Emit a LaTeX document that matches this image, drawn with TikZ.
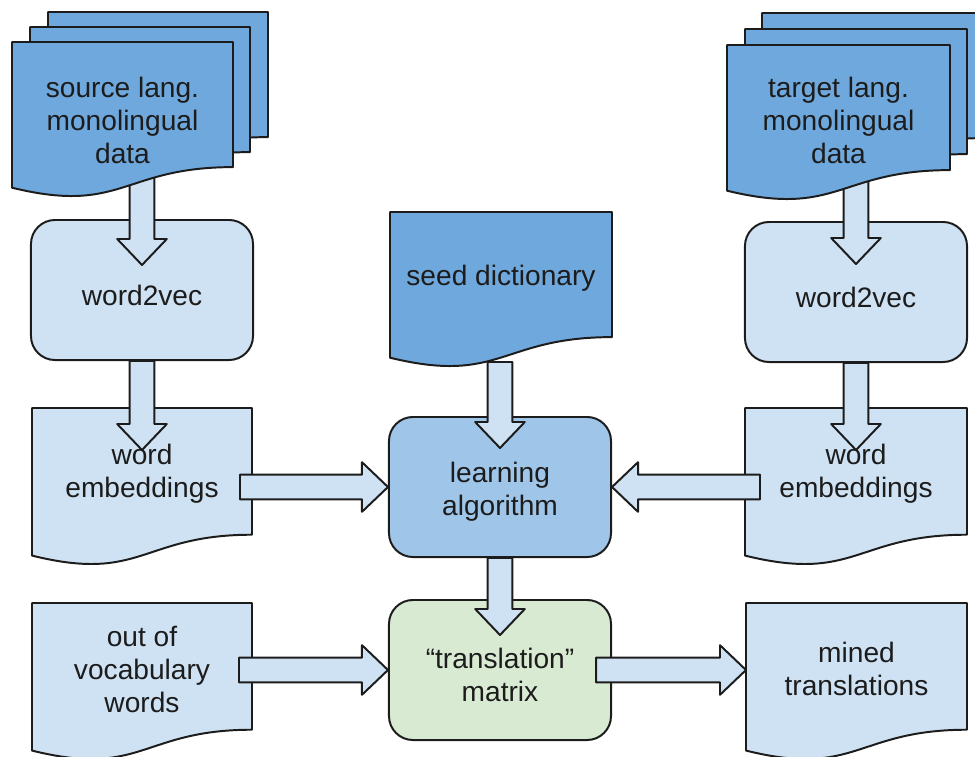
\documentclass[tikz,border=0pt]{standalone}
\usepackage{fontspec}
\setmainfont{Liberation Sans}
\usetikzlibrary{calc,fit}

\definecolor{blueA}{HTML}{6FA8DC}
\definecolor{blueB}{HTML}{9FC5E8}
\definecolor{blueC}{HTML}{CFE2F3}
\definecolor{greenC}{HTML}{D9EAD3}
\definecolor{ink}{HTML}{1C1C1C}

\pgfdeclarelayer{front}
\pgfsetlayers{main,front}

\tikzset{
	shapeline/.style={draw=ink, line width=1.4pt, line join=round},
	labeltext/.style={font=\fontsize{20}{23.5}\selectfont, text=ink, align=center},
	box/.style={shapeline, rounded corners=0.6cm, minimum width=5.55cm, minimum height=3.5cm},
	txt/.style={labeltext, inner sep=0pt},
	docfit/.style={inner sep=0pt, outer sep=0pt},
	fat arrow/.style={shapeline, fill=blueC},
}

% page with a wavy lower edge: x0, y0, width, height, fill
\newcommand\docshape[5]{%
	\draw[shapeline, fill=#5] (#1,#2) -- ({#1+#3},#2) -- ({#1+#3},{#2+0.802*#4})
	.. controls ({#1+0.5*#3},{#2+0.802*#4}) and ({#1+0.5*#3},{#2+1.1075*#4}) .. (#1,{#2+0.934*#4}) -- cycle;}

% name, x0, y0, width, height, fill, text
\newcommand\docnode[7]{%
	\docshape{#2}{#3}{#4}{#5}{#6}
	\node[docfit, fit={(#2,#3) ({#2+#4},{#3+#5})}] (#1) {};
	\node[txt] (#1-t) at ($(#1.north)+(0,66)$) {#7};}

% rounded box: name, centre, fill, text
\newcommand\boxnode[4]{%
	\node[box, fill=#3] (#1) at (#2) {};
	\node[txt] (#1-t) at ($(#1.center)+(0,5)$) {#4};}

% hollow block arrow from #1 to #2
\newcommand\fatarrow[2]{%
	\path (#1) coordinate (fa-s) (#2) coordinate (fa-t);
	\path ($(fa-t)!0.65cm!(fa-s)$) coordinate (fa-h);
	\draw[fat arrow] ($(fa-s)!0.31cm!90:(fa-t)$) -- ($(fa-h)!0.31cm!90:(fa-t)$)
	-- ($(fa-h)!0.62cm!90:(fa-t)$) -- (fa-t) -- ($(fa-h)!0.62cm!-90:(fa-t)$)
	-- ($(fa-h)!0.31cm!-90:(fa-t)$) -- ($(fa-s)!0.31cm!-90:(fa-t)$) -- cycle;}

\begin{document}
\begin{tikzpicture}[x=0.025cm, y=-0.025cm]
	\useasboundingbox (0,0) rectangle (975,757);

	\boxnode{w2vL}{142,290}{blueC}{word2vec}
	\boxnode{w2vR}{856,292}{blueC}{word2vec}
	\boxnode{learn}{500,487}{blueB}{learning\\algorithm}
	\boxnode{mat}{500,670}{greenC}{``translation''\\matrix}

	\docnode{seed}{390}{212}{222}{156}{blueA}{seed dictionary}
	\docnode{weL}{32}{408}{220}{158}{blueC}{word\\embeddings}
	\docnode{weR}{745}{408}{222}{158}{blueC}{word\\embeddings}
	\docnode{oov}{32}{603}{220}{158}{blueC}{out of\\vocabulary\\words}
	\docnode{mined}{746}{603}{221}{158}{blueC}{mined\\translations}

	% stacked pages sit above everything else
	\begin{pgfonlayer}{front}
		\docshape{48}{12}{220}{156}{blueA}
		\docshape{30}{27}{220}{156}{blueA}
		\docshape{12}{42}{221}{156}{blueA}
		\node[docfit, fit={(12,42) (233,198)}] (src) {};
		\node[txt] (src-t) at (src.center) {source lang.\\monolingual\\data};
		\docshape{762}{13}{222}{156}{blueA}
		\docshape{745}{29}{222}{156}{blueA}
		\docshape{727}{45}{223}{156}{blueA}
		\node[docfit, fit={(727,45) (950,201)}] (tgt) {};
		\node[txt] (tgt-t) at ($(tgt.center)+(0,-3)$) {target lang.\\monolingual\\data};
	\end{pgfonlayer}

	\fatarrow{src.center -| w2vL.north}{$(w2vL.north)+(0,46)$}
	\fatarrow{tgt.center -| w2vR.north}{$(w2vR.north)+(0,43)$}
	\fatarrow{w2vL.south}{$(weL.north)+(0,42)$}
	\fatarrow{w2vR.south}{$(weR.north)+(0,42)$}
	\fatarrow{$(seed.south -| learn.north)+(0,-6)$}{$(learn.north)+(0,32)$}
	\fatarrow{$(weL.east)+(-12,0)$}{learn.west}
	\fatarrow{$(weR.west)+(15,0)$}{learn.east}
	\fatarrow{learn.south}{$(mat.north)+(0,36)$}
	\fatarrow{$(oov.east |- mat.west)+(-13,0)$}{mat.west}
	\fatarrow{$(mat.east)+(-16,0)$}{mined.west |- mat.east}
\end{tikzpicture}
\end{document}
